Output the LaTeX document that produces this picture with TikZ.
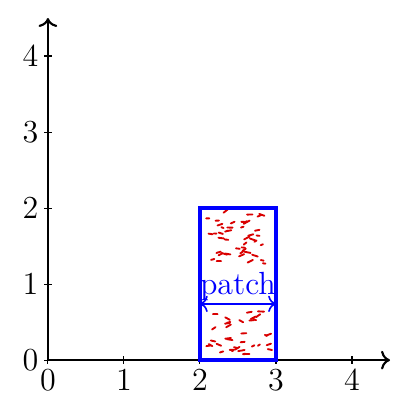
\documentclass[tikz,border=0pt]{standalone}
\usetikzlibrary{arrows.meta}
\begin{document}
\begin{tikzpicture}[x=1cm,y=1cm,
  axis/.style={thick,->},
  tickmark/.style={thin},
  patchbox/.style={draw=blue,ultra thick},
  stroke/.style={red!85!black,line width=0.7pt,line cap=round},
  measure/.style={blue,semithick,<->},
  lbl/.style={font=\large}]
\useasboundingbox (-0.63,-0.553) rectangle (4.855,4.737);
% strokes inside the patch
\pgfmathsetseed{11}
\foreach \i in {1,...,45}{
  \pgfmathsetmacro{\px}{2.08+0.82*rnd}
  \pgfmathsetmacro{\py}{1.27+0.68*rnd}
  \pgfmathsetmacro{\ang}{-20+60*rnd}
  \pgfmathsetmacro{\len}{0.03+0.06*rnd}
  \draw[stroke] (\px,\py) -- ++(\ang:\len);
}
\foreach \i in {1,...,35}{
  \pgfmathsetmacro{\px}{2.08+0.82*rnd}
  \pgfmathsetmacro{\py}{0.05+0.62*rnd}
  \pgfmathsetmacro{\ang}{-30+70*rnd}
  \pgfmathsetmacro{\len}{0.03+0.06*rnd}
  \draw[stroke] (\px,\py) -- ++(\ang:\len);
}
% axes
\coordinate (o) at (0,0);
\coordinate (xe) at (4.5,0);
\coordinate (ye) at (0,4.5);
\draw[axis] (o) -- (xe);
\draw[axis] (o) -- (ye);
\foreach \k in {0,...,4}{
  \draw[tickmark] (\k,-0.05) -- (\k,0.05);
  \node[below,lbl,inner sep=2pt] (xl\k) at (\k,-0.05) {$\k$};
}
\foreach \k in {0,...,4}{
  \draw[tickmark] (-0.05,\k) -- (0.05,\k);
  \node[left,lbl,inner sep=2pt] (yl\k) at (-0.05,\k) {$\k$};
}
% patch
\node[patchbox,minimum width=1cm,minimum height=2cm,inner sep=0pt,outer sep=0pt,anchor=south west] (patch) at (2,0) {};
\coordinate (pl) at (2,0.74);
\coordinate (pr) at (3,0.74);
\draw[measure] (pl) -- (pr) node[midway,above,inner sep=1pt,text=blue,lbl] (lab) {patch};
\end{tikzpicture}
\end{document}
